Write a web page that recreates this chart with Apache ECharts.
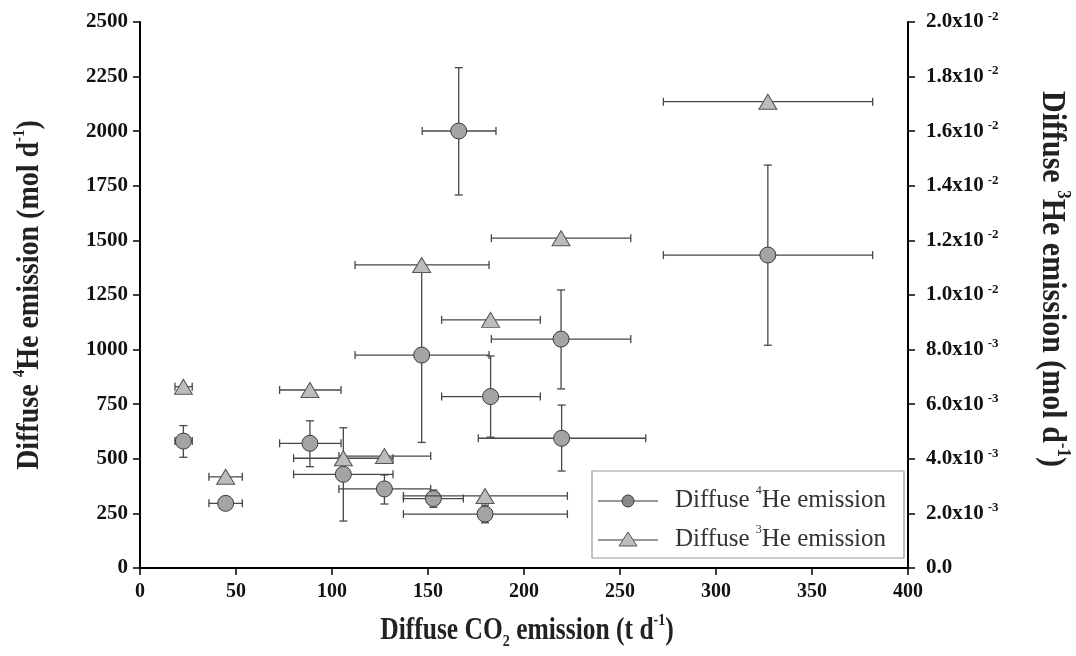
<!DOCTYPE html>
<html>
<head>
<meta charset="utf-8">
<script src="https://cdn.jsdelivr.net/npm/echarts@6/dist/echarts.min.js"></script>
<style>
  html, body { margin: 0; padding: 0; background: #fff; }
  #chart { width: 1076px; height: 656px; }
</style>
</head>
<body>
<div id="chart"></div>
<script>
// Diffuse CO2 emission (t/d) with horizontal uncertainty range, 4He data
const co2 = [22.6, 44.6, 88.5, 105.9, 127.3, 146.7, 152.8, 166, 179.7, 182.6, 219.3, 219.6, 327];
const co2Lo = [18.2, 35.9, 72.7, 80, 103.6, 112, 137.2, 147, 137.2, 157.1, 183, 176.2, 272.6];
const co2Hi = [27.2, 53.3, 104.7, 131.8, 151.4, 181.8, 168.4, 185.4, 222.6, 208.5, 255.6, 263.4, 381.6];
// Diffuse 4He emission (mol/d) with vertical uncertainty range
const he4 = [581, 296, 571, 429, 362, 975, 318, 2001, 247, 785, 1048, 594, 1433];
const he4Lo = [507, 272, 464, 215, 293, 575, 278, 1708, 207, 599, 820, 444, 1020];
const he4Hi = [652, 320, 674, 642, 426, 1375, 357, 2291, 288, 971, 1273, 746, 1845];

// Diffuse 3He emission (mol/d) against CO2 emission
const co2He3 = [22.6, 44.6, 88.5, 105.9, 127.3, 146.7, 179.7, 182.6, 219.3, 327];
const co2He3Lo = [18.2, 35.9, 72.7, 80, 103.6, 112, 137.2, 157.1, 183, 272.6];
const co2He3Hi = [27.2, 53.3, 104.7, 131.8, 151.4, 181.8, 222.6, 208.5, 255.6, 381.6];
const he3 = [0.00664, 0.00334, 0.00652, 0.00402, 0.0041, 0.0111, 0.00264, 0.00909, 0.01208, 0.01708];

// Axis ranges and ticks
const xTicks = { min: 0, max: 400, interval: 50 };
const he4Ticks = { min: 0, max: 2500, interval: 250 };
const he3Ticks = { min: 0, max: 0.02, interval: 0.002 };

const serif = '"Liberation Serif", "Times New Roman", serif';
const errColor = '#474747';
const cap = 4;

function sciLabel(v) {
  if (Math.abs(v) < 1e-12) return '{m|0.0}';
  const e = Math.floor(Math.log10(v) + 1e-9);
  const m = v / Math.pow(10, e);
  return '{m|' + m.toFixed(1) + 'x10}{e|' + e + '}';
}

function errorBars(withY) {
  return function (params, api) {
    const x = api.value(0), y = api.value(1);
    const c = api.coord([x, y]);
    const l = api.coord([api.value(2), y]);
    const r = api.coord([api.value(3), y]);
    const style = { stroke: errColor, lineWidth: 1.3, fill: null };
    const kids = [
      { type: 'line', shape: { x1: l[0], y1: c[1], x2: r[0], y2: c[1] }, style },
      { type: 'line', shape: { x1: l[0], y1: c[1] - cap, x2: l[0], y2: c[1] + cap }, style },
      { type: 'line', shape: { x1: r[0], y1: c[1] - cap, x2: r[0], y2: c[1] + cap }, style }
    ];
    if (withY) {
      const b = api.coord([x, api.value(4)]);
      const t = api.coord([x, api.value(5)]);
      kids.push(
        { type: 'line', shape: { x1: c[0], y1: b[1], x2: c[0], y2: t[1] }, style },
        { type: 'line', shape: { x1: c[0] - cap, y1: b[1], x2: c[0] + cap, y2: b[1] }, style },
        { type: 'line', shape: { x1: c[0] - cap, y1: t[1], x2: c[0] + cap, y2: t[1] }, style }
      );
    }
    return { type: 'group', children: kids };
  };
}

const he4Err = co2.map((x, i) => [x, he4[i], co2Lo[i], co2Hi[i], he4Lo[i], he4Hi[i]]);
const he3Err = co2He3.map((x, i) => [x, he3[i], co2He3Lo[i], co2He3Hi[i]]);

const axisLine = { show: true, lineStyle: { color: '#000', width: 2 } };
const axisTick = { show: true, inside: false, length: 7, lineStyle: { color: '#000', width: 1.5 } };

function titleRich(size) {
  const sup = Math.round(size * 0.55);
  return {
    t: { fontFamily: serif, fontWeight: 'bold', fontSize: size, lineHeight: size + 6, color: '#222', fill: '#222' },
    sup: { fontFamily: serif, fontWeight: 'bold', fontSize: sup, verticalAlign: 'top', lineHeight: sup + 1, color: '#222', fill: '#222' },
    sub: { fontFamily: serif, fontWeight: 'bold', fontSize: sup, verticalAlign: 'bottom', lineHeight: sup + 1, color: '#222', fill: '#222' }
  };
}

const legendText = {
  t: { fontFamily: serif, fontSize: 25, lineHeight: 30, color: '#333', fill: '#333' },
  sup: { fontFamily: serif, fontSize: 12, verticalAlign: 'top', lineHeight: 13, color: '#333', fill: '#333' }
};

const chart = echarts.init(document.getElementById('chart'), null, { renderer: 'canvas' });
chart.setOption({
  animation: false,
  backgroundColor: '#fff',
  grid: { left: 140, right: 168, top: 22, bottom: 88 },
  xAxis: {
    type: 'value', min: xTicks.min, max: xTicks.max, interval: xTicks.interval,
    axisLine, axisTick, splitLine: { show: false },
    axisLabel: { margin: 14, fontFamily: serif, fontWeight: 'bold', fontSize: 20, color: '#111' }
  },
  yAxis: [
    {
      type: 'value', position: 'left', min: he4Ticks.min, max: he4Ticks.max, interval: he4Ticks.interval,
      axisLine, axisTick, splitLine: { show: false },
      axisLabel: { margin: 12, fontFamily: serif, fontWeight: 'bold', fontSize: 21, color: '#111', formatter: v => String(v) }
    },
    {
      type: 'value', position: 'right', min: he3Ticks.min, max: he3Ticks.max, interval: he3Ticks.interval,
      axisLine, axisTick, splitLine: { show: false },
      axisLabel: {
        margin: 18, formatter: sciLabel,
        rich: {
          m: { fontFamily: serif, fontWeight: 'bold', fontSize: 21, lineHeight: 24, color: '#111' },
          e: { fontFamily: serif, fontWeight: 'bold', fontSize: 13, verticalAlign: 'top', lineHeight: 13, padding: [0, 0, 0, 4], color: '#111' }
        }
      }
    }
  ],
  series: [
    {
      type: 'custom', name: 'he4err', xAxisIndex: 0, yAxisIndex: 0,
      renderItem: errorBars(true), data: he4Err, encode: { x: 0, y: 1 }, z: 2, silent: true
    },
    {
      type: 'scatter', name: 'Diffuse 4He emission', xAxisIndex: 0, yAxisIndex: 0,
      data: co2.map((x, i) => [x, he4[i]]),
      symbol: 'circle', symbolSize: 16,
      itemStyle: { color: '#a4a4a4', borderColor: '#3a3a3a', borderWidth: 1, opacity: 1 }, z: 3
    },
    {
      type: 'custom', name: 'he3err', xAxisIndex: 0, yAxisIndex: 1,
      renderItem: errorBars(false), data: he3Err, encode: { x: 0, y: 1 }, z: 4, silent: true
    },
    {
      type: 'scatter', name: 'Diffuse 3He emission', xAxisIndex: 0, yAxisIndex: 1,
      data: co2He3.map((x, i) => [x, he3[i]]),
      symbol: 'triangle', symbolSize: [18, 15],
      itemStyle: { color: '#bcbcbc', borderColor: '#555', borderWidth: 1, opacity: 1 }, z: 5
    }
  ],
  graphic: [
    // axis titles
    {
      type: 'text', x: 30, y: 295, rotation: Math.PI / 2, scaleY: 1.15, z: 10,
      style: {
        text: '{t|Diffuse }{sup|4}{t|He emission (mol d}{sup|-1}{t|)}', rich: titleRich(28),
        align: 'center', verticalAlign: 'middle', textAlign: 'center', textVerticalAlign: 'middle'
      }
    },
    {
      type: 'text', x: 1052, y: 279, rotation: -Math.PI / 2, scaleY: 1.1, z: 10,
      style: {
        text: '{t|Diffuse }{sup|3}{t|He emission (mol d}{sup|-1}{t|)}', rich: titleRich(30),
        align: 'center', verticalAlign: 'middle', textAlign: 'center', textVerticalAlign: 'middle'
      }
    },
    {
      type: 'text', x: 527, y: 631, scaleY: 1.25, z: 10,
      style: {
        text: '{t|Diffuse CO}{sub|2}{t| emission (t d}{sup|-1}{t|)}', rich: titleRich(25.5),
        align: 'center', verticalAlign: 'middle', textAlign: 'center', textVerticalAlign: 'middle'
      }
    },
    // legend box
    {
      type: 'group', z: 20,
      children: [
        { type: 'rect', shape: { x: 592, y: 471, width: 312, height: 87 }, style: { fill: '#fff', stroke: '#9a9a9a', lineWidth: 1.2 } },
        { type: 'line', shape: { x1: 598, y1: 501, x2: 658, y2: 501 }, style: { stroke: '#333', lineWidth: 1.2 } },
        { type: 'circle', shape: { cx: 628, cy: 501, r: 6 }, style: { fill: '#8a8a8a', stroke: '#3a3a3a', lineWidth: 1 } },
        {
          type: 'text', x: 675, y: 500,
          style: { text: '{t|Diffuse }{sup|4}{t|He emission}', rich: legendText, verticalAlign: 'middle', textVerticalAlign: 'middle' }
        },
        { type: 'line', shape: { x1: 598, y1: 540, x2: 658, y2: 540 }, style: { stroke: '#333', lineWidth: 1.2 } },
        { type: 'polygon', shape: { points: [[628, 532], [619, 546], [637, 546]] }, style: { fill: '#bcbcbc', stroke: '#555', lineWidth: 1 } },
        {
          type: 'text', x: 675, y: 539,
          style: { text: '{t|Diffuse }{sup|3}{t|He emission}', rich: legendText, verticalAlign: 'middle', textVerticalAlign: 'middle' }
        }
      ]
    }
  ]
});
</script>
</body>
</html>
